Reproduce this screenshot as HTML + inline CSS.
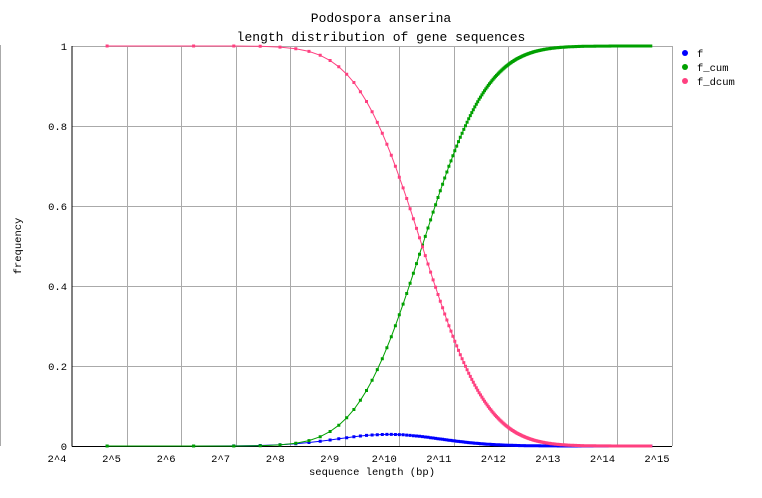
<!DOCTYPE html>
<html><head><meta charset="utf-8"><style>
body{margin:0;background:#fff;}
svg{display:block;font-family:"Liberation Mono","DejaVu Sans Mono",monospace;}
</style></head><body>
<svg id="s" width="762" height="498" xmlns="http://www.w3.org/2000/svg">
<rect width="762" height="498" fill="#fff"/>
<line x1="0.5" y1="45" x2="0.5" y2="446" stroke="#aaa"/>
<text x="381" y="22" font-size="13" text-anchor="middle">Podospora anserina</text>
<text x="381" y="41" font-size="13" text-anchor="middle">length distribution of gene sequences</text>
<g id="grid" stroke="#aaa" stroke-width="1"></g>
<g id="lbl" font-size="10.5"></g>
<line x1="72" y1="46" x2="72" y2="446.5" stroke="#000"/>
<line x1="72" y1="446.5" x2="672" y2="446.5" stroke="#000"/>
<g id="data"></g>
<text x="372" y="475" font-size="10.5" text-anchor="middle">sequence length (bp)</text>
<text x="0" y="0" font-size="10.5" text-anchor="middle" transform="translate(21,246) rotate(-90)">frequency</text>
<g font-size="10.5">
<circle cx="685" cy="53" r="3" fill="#0000ff"/><text x="697" y="57">f</text>
<circle cx="685" cy="67" r="3" fill="#00a000"/><text x="697" y="71">f_cum</text>
<circle cx="685" cy="81" r="3" fill="#ff4080"/><text x="697" y="85">f_dcum</text>
</g>
</svg>
<script>
const NS="http://www.w3.org/2000/svg";
function el(p,t,a,txt){const e=document.createElementNS(NS,t);for(const k in a)e.setAttribute(k,a[k]);if(txt!==undefined)e.textContent=txt;p.appendChild(e);return e;}
const X=l=>72+(l-4)*54.545, Y=v=>446-v*400;
const g=document.getElementById('grid'),lb=document.getElementById('lbl');
for(let i=5;i<=15;i++){const x=Math.round(X(i))+0.5;el(g,'line',{x1:x,y1:46,x2:x,y2:446});}
for(let j=1;j<=5;j++){const y=Math.round(Y(j/5))+0.5;el(g,'line',{x1:72,y1:y,x2:672,y2:y});}
for(let i=4;i<=15;i++)el(lb,'text',{x:X(i)-15,y:462,'text-anchor':'middle'},'2^'+i);
['0','0.2','0.4','0.6','0.8','1'].forEach((t,j)=>el(lb,'text',{x:67,y:Y(j/5)+4,'text-anchor':'end'},t));
function erf(x){const s=x<0?-1:1;x=Math.abs(x);const t=1/(1+0.3275911*x);const y=1-((((1.061405429*t-1.453152027)*t+1.421413741)*t-0.284496736)*t+0.254829592)*t*Math.exp(-x*x);return s*y;}
const mu=10.42,sg=0.94;
const cdf=L=>0.5*(1+erf((Math.log2(L)-mu)/(sg*Math.SQRT2)));
const d=document.getElementById('data');
const pts={f:[],c:[],dc:[]};
for(let L=25;L<=25025;L+=50){const x=X(Math.log2(L));const c=cdf(L);const f=(cdf(L+25)-cdf(Math.max(L-25,1)))*1.05;
pts.f.push([x,Y(f)]);pts.c.push([x,Y(c)]);pts.dc.push([x,Y(1-c)]);}
[['f','#0000ff'],['c','#00a000'],['dc','#ff4080']].forEach(([k,col])=>{
el(d,'polyline',{points:pts[k].map(p=>p[0].toFixed(1)+','+p[1].toFixed(1)).join(' '),fill:'none',stroke:col,'stroke-width':1});
let s='';pts[k].forEach(p=>{s+=`M${(p[0]-1.5).toFixed(1)} ${(p[1]-1.5).toFixed(1)}h3v3h-3z`;});
el(d,'path',{d:s,fill:col});});
</script>
</body></html>
